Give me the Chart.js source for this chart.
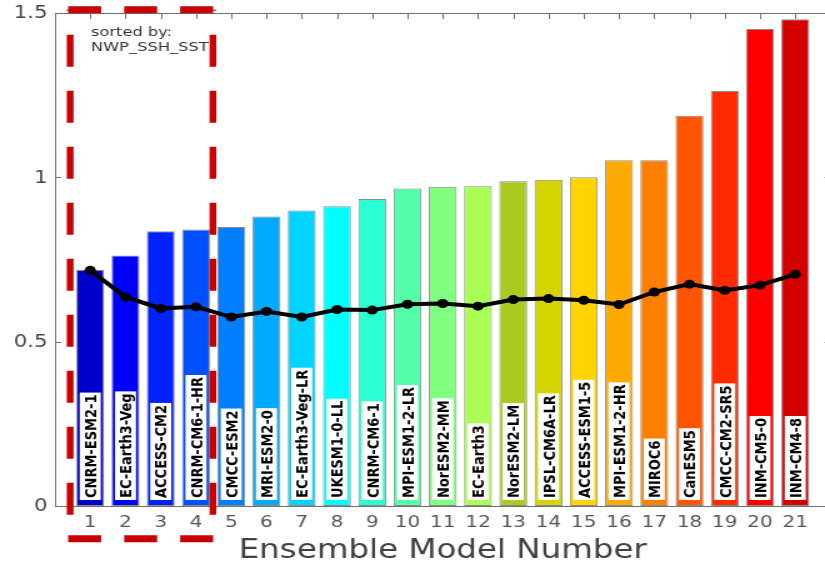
<!DOCTYPE html>
<html>
<head>
<meta charset="utf-8">
<script src="https://cdn.jsdelivr.net/npm/chart.js@4/dist/chart.umd.min.js"></script>
<style>
  html, body { margin: 0; padding: 0; background: #fff; overflow: hidden; }
  #wrap { width: 825px; height: 564px; overflow: hidden; position: relative; }
  /* the drawing is stretched horizontally by 1.25 */
  #stretch { width: 672px; height: 564px; transform: scaleX(1.25); transform-origin: 0 0; }
  #c { display: block; }
</style>
</head>
<body>
<div id="wrap"><div id="stretch"><canvas id="c" width="672" height="564" style="width:672px;height:564px"></canvas></div></div>
<script>
// ---- data ----
const modelNumbers = [1, 2, 3, 4, 5, 6, 7, 8, 9, 10, 11, 12, 13, 14, 15, 16, 17, 18, 19, 20, 21];
const modelNames = [
  'CNRM-ESM2-1', 'EC-Earth3-Veg', 'ACCESS-CM2', 'CNRM-CM6-1-HR', 'CMCC-ESM2',
  'MRI-ESM2-0', 'EC-Earth3-Veg-LR', 'UKESM1-0-LL', 'CNRM-CM6-1', 'MPI-ESM1-2-LR',
  'NorESM2-MM', 'EC-Earth3', 'NorESM2-LM', 'IPSL-CM6A-LR', 'ACCESS-ESM1-5',
  'MPI-ESM1-2-HR', 'MIROC6', 'CanESM5', 'CMCC-CM2-SR5', 'INM-CM5-0', 'INM-CM4-8'
];
const barValues = [0.719, 0.762, 0.836, 0.841, 0.849, 0.881, 0.899, 0.912, 0.934, 0.966,
                   0.971, 0.973, 0.988, 0.993, 1.000, 1.052, 1.052, 1.187, 1.263, 1.451, 1.481];
const lineValues = [0.717, 0.636, 0.601, 0.606, 0.575, 0.592, 0.575, 0.598, 0.596, 0.614,
                    0.616, 0.608, 0.628, 0.631, 0.626, 0.613, 0.651, 0.675, 0.656, 0.672, 0.705];
const barColors = [
  '#0000cc', '#0000ff', '#0022ff', '#0050ff', '#0080ff', '#00aaff', '#00d4ff',
  '#00ffff', '#2affd4', '#55ffaa', '#80ff80', '#aaff55', '#aacc22', '#d4d400',
  '#ffd400', '#ffaa00', '#ff8000', '#ff5500', '#ff2a00', '#ff0000', '#d40000'
];
const yTicks = [0, 0.5, 1, 1.5];
const yTickLabels = ['0', '0.5', '1', '1.5'];
const xRange = [0, 22];
const highlightBox = { xMin: 0.43, xMax: 4.48, yMin: -0.1, yMax: 1.51 };
const sortNote = ['sorted by:', 'NWP_SSH_SST'];
const sortNoteAt = { x: 1.02, y: 1.43 };

const FONT = '"DejaVu Sans", sans-serif';
const AXIS = '#707070';
Chart.defaults.font.family = FONT;

// top/right frame with inward tick marks, and the value labels of the y axis
const framePlugin = {
  id: 'frame',
  afterDatasetsDraw(chart) {
    const { ctx, chartArea: a, scales: { x, y } } = chart;
    ctx.save();
    ctx.strokeStyle = AXIS;
    ctx.lineWidth = 1;
    ctx.beginPath();
    ctx.moveTo(a.left, a.top + 0.5); ctx.lineTo(a.right, a.top + 0.5);
    ctx.moveTo(a.right - 0.5, a.top); ctx.lineTo(a.right - 0.5, a.bottom);
    x.ticks.forEach(t => {
      const px = Math.round(x.getPixelForValue(t.value)) + 0.5;
      ctx.moveTo(px, a.top); ctx.lineTo(px, a.top + 6);
    });
    y.ticks.forEach(t => {
      const py = Math.round(y.getPixelForValue(t.value)) + 0.5;
      ctx.moveTo(a.left, py); ctx.lineTo(a.left + 4.8, py);
      ctx.moveTo(a.right, py); ctx.lineTo(a.right - 4.8, py);
    });
    ctx.stroke();

    ctx.fillStyle = '#444444';
    ctx.font = `17px ${FONT}`;
    ctx.textAlign = 'right';
    ctx.textBaseline = 'middle';
    y.ticks.forEach(t => {
      const label = yTickLabels[yTicks.indexOf(t.value)];
      ctx.fillText(label, a.left - 6, y.getPixelForValue(t.value) + 1);
    });
    ctx.restore();
  }
};

// model name in a white box at the foot of each bar
const nameLabelPlugin = {
  id: 'nameLabels',
  afterDatasetsDraw(chart) {
    const { ctx, scales: { y } } = chart;
    const meta = chart.getDatasetMeta(0);
    const y0 = y.getPixelForValue(0);
    const size = 13;
    ctx.save();
    ctx.font = `bold ${size}px ${FONT}`;
    meta.data.forEach((bar, i) => {
      const name = modelNames[i];
      const w = ctx.measureText(name).width;
      const boxW = 16.8, boxH = w + 4;
      const bottom = y0 - 6;
      ctx.fillStyle = '#ffffff';
      ctx.fillRect(bar.x - boxW / 2, bottom - boxH, boxW, boxH);
      ctx.save();
      ctx.translate(bar.x, bottom - 2);
      ctx.rotate(-Math.PI / 2);
      ctx.fillStyle = '#000000';
      ctx.textAlign = 'left';
      ctx.textBaseline = 'alphabetic';
      ctx.fillText(name, 0, size * 0.73 / 2);
      ctx.restore();
    });
    ctx.restore();
  }
};

// dashed highlight box and sort note
const highlightPlugin = {
  id: 'highlight',
  afterDraw(chart) {
    const { ctx, scales: { x, y } } = chart;
    const L = x.getPixelForValue(highlightBox.xMin);
    const R = x.getPixelForValue(highlightBox.xMax);
    const T = y.getPixelForValue(highlightBox.yMax);
    const B = y.getPixelForValue(highlightBox.yMin);
    ctx.save();
    ctx.strokeStyle = '#c80000';
    ctx.lineCap = 'butt';
    // horizontal edges
    ctx.lineWidth = 7;
    ctx.setLineDash([26.4, 18.4]);
    ctx.lineDashOffset = 0;
    [T, B].forEach(py => {
      ctx.beginPath();
      ctx.moveTo(L - 1.6, py); ctx.lineTo(R + 2.8, py);
      ctx.stroke();
    });
    // vertical edges
    ctx.lineWidth = 5.4;
    ctx.setLineDash([32, 24]);
    ctx.lineDashOffset = 31;
    [L, R].forEach(px => {
      ctx.beginPath();
      ctx.moveTo(px, T); ctx.lineTo(px, B);
      ctx.stroke();
    });
    ctx.restore();

    ctx.save();
    ctx.fillStyle = '#333333';
    ctx.font = `13px ${FONT}`;
    ctx.textAlign = 'left';
    ctx.textBaseline = 'alphabetic';
    const nx = x.getPixelForValue(sortNoteAt.x);
    const ny = y.getPixelForValue(sortNoteAt.y);
    sortNote.forEach((line, i) => ctx.fillText(line, nx, ny + i * 14.7));
    ctx.restore();
  }
};

new Chart(document.getElementById('c'), {
  data: {
    datasets: [
      {
        type: 'bar',
        order: 1,
        data: modelNumbers.map((n, i) => ({ x: n, y: barValues[i] })),
        backgroundColor: barColors,
        borderColor: '#8c8c8c',
        borderWidth: 1,
        borderSkipped: false,
        categoryPercentage: 1,
        barPercentage: 0.79
      },
      {
        type: 'line',
        order: 0,
        data: modelNumbers.map((n, i) => ({ x: n, y: lineValues[i] })),
        borderColor: '#000000',
        borderWidth: 4,
        pointRadius: 4.5,
        pointBackgroundColor: '#000000',
        pointBorderColor: '#000000',
        pointBorderWidth: 0,
        tension: 0
      }
    ]
  },
  options: {
    responsive: false,
    animation: false,
    events: [],
    layout: { padding: { top: 13, right: 7.6, left: 0, bottom: 0 } },
    plugins: { legend: { display: false }, tooltip: { enabled: false } },
    scales: {
      x: {
        type: 'linear',
        offset: false,
        min: xRange[0],
        max: xRange[1],
        afterBuildTicks: s => { s.ticks = modelNumbers.map(v => ({ value: v })); },
        afterFit: s => { s.height = 58; },
        grid: { display: false, drawTicks: false },
        border: { display: true, color: AXIS, width: 1 },
        ticks: {
          autoSkip: false,
          maxRotation: 0,
          padding: 7,
          color: '#555555',
          font: { size: 16 },
          callback: v => String(v)
        },
        title: {
          display: true,
          text: 'Ensemble Model Number',
          color: '#404040',
          font: { size: 26, lineHeight: 0.96 },
          padding: { top: 0, bottom: 0 }
        }
      },
      y: {
        min: yTicks[0],
        max: yTicks[yTicks.length - 1],
        afterBuildTicks: s => { s.ticks = yTicks.map(v => ({ value: v })); },
        afterFit: s => { s.width = 44; },
        grid: { display: false, drawTicks: false },
        border: { display: true, color: AXIS, width: 1 },
        ticks: { display: false }
      }
    }
  },
  plugins: [framePlugin, nameLabelPlugin, highlightPlugin]
});
</script>
</body>
</html>
